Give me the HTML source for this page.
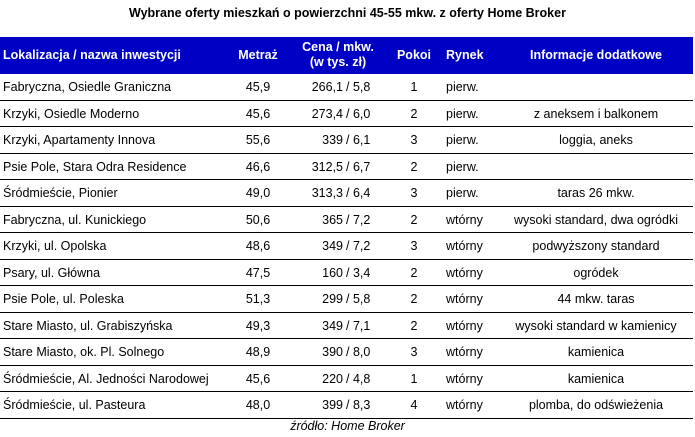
<!DOCTYPE html>
<html><head><meta charset="utf-8"><style>
body{margin:0;width:695px;height:437px;background:#fff;font-family:"Liberation Sans","DejaVu Sans",sans-serif;position:relative;overflow:hidden;color:#000}
.t{position:absolute;top:6px;left:0;width:695px;text-align:center;font-weight:bold;font-size:12.5px}
.h{position:absolute;top:37px;left:0;width:693px;height:37px;background:#0000c4;color:#fff;font-weight:bold;font-size:12.5px}
.h div,.r div{position:absolute;white-space:nowrap}
.r{position:absolute;left:0;width:693px;height:26.5px;border-bottom:1.5px solid #000;box-sizing:border-box;font-size:12.5px}
.r div{top:6px}
.c1{left:3px}.c2{left:221px;width:74px;text-align:center}
.cl{left:262px;width:81px;text-align:right}.cr{left:346px}
.c4{left:383px;width:62px;text-align:center}.c5{left:446px}
.c6{left:500px;width:192px;text-align:center}
.f{position:absolute;top:419px;left:0;width:695px;text-align:center;font-style:italic;font-size:12.5px}
</style></head><body>
<div class="t">Wybrane oferty mieszkań o powierzchni 45-55 mkw. z oferty Home Broker</div>
<div class="h">
<div style="left:3px;top:11px">Lokalizacja / nazwa inwestycji</div>
<div style="left:221px;width:74px;text-align:center;top:11px">Metraż</div>
<div style="left:290px;width:96px;text-align:center;top:3px;line-height:15px">Cena / mkw.<br>(w tys. zł)</div>
<div style="left:383px;width:62px;text-align:center;top:11px">Pokoi</div>
<div style="left:446px;top:11px">Rynek</div>
<div style="left:500px;width:192px;text-align:center;top:11px">Informacje dodatkowe</div>
</div>
<div class="r" style="top:74px"><div class="c1">Fabryczna, Osiedle Graniczna</div><div class="c2">45,9</div><div class="cl">266,1</div><div class="cr">/ 5,8</div><div class="c4">1</div><div class="c5">pierw.</div><div class="c6"></div></div>
<div class="r" style="top:100.5px"><div class="c1">Krzyki, Osiedle Moderno</div><div class="c2">45,6</div><div class="cl">273,4</div><div class="cr">/ 6,0</div><div class="c4">2</div><div class="c5">pierw.</div><div class="c6">z aneksem i balkonem</div></div>
<div class="r" style="top:127px"><div class="c1">Krzyki, Apartamenty Innova</div><div class="c2">55,6</div><div class="cl">339</div><div class="cr">/ 6,1</div><div class="c4">3</div><div class="c5">pierw.</div><div class="c6">loggia, aneks</div></div>
<div class="r" style="top:153.5px"><div class="c1">Psie Pole, Stara Odra Residence</div><div class="c2">46,6</div><div class="cl">312,5</div><div class="cr">/ 6,7</div><div class="c4">2</div><div class="c5">pierw.</div><div class="c6"></div></div>
<div class="r" style="top:180px"><div class="c1">Śródmieście, Pionier</div><div class="c2">49,0</div><div class="cl">313,3</div><div class="cr">/ 6,4</div><div class="c4">3</div><div class="c5">pierw.</div><div class="c6">taras 26 mkw.</div></div>
<div class="r" style="top:206.5px"><div class="c1">Fabryczna, ul. Kunickiego</div><div class="c2">50,6</div><div class="cl">365</div><div class="cr">/ 7,2</div><div class="c4">2</div><div class="c5">wtórny</div><div class="c6">wysoki standard, dwa ogródki</div></div>
<div class="r" style="top:233px"><div class="c1">Krzyki, ul. Opolska</div><div class="c2">48,6</div><div class="cl">349</div><div class="cr">/ 7,2</div><div class="c4">3</div><div class="c5">wtórny</div><div class="c6">podwyższony standard</div></div>
<div class="r" style="top:259.5px"><div class="c1">Psary, ul. Główna</div><div class="c2">47,5</div><div class="cl">160</div><div class="cr">/ 3,4</div><div class="c4">2</div><div class="c5">wtórny</div><div class="c6">ogródek</div></div>
<div class="r" style="top:286px"><div class="c1">Psie Pole, ul. Poleska</div><div class="c2">51,3</div><div class="cl">299</div><div class="cr">/ 5,8</div><div class="c4">2</div><div class="c5">wtórny</div><div class="c6">44 mkw. taras</div></div>
<div class="r" style="top:312.5px"><div class="c1">Stare Miasto, ul. Grabiszyńska</div><div class="c2">49,3</div><div class="cl">349</div><div class="cr">/ 7,1</div><div class="c4">2</div><div class="c5">wtórny</div><div class="c6">wysoki standard w kamienicy</div></div>
<div class="r" style="top:339px"><div class="c1">Stare Miasto, ok. Pl. Solnego</div><div class="c2">48,9</div><div class="cl">390</div><div class="cr">/ 8,0</div><div class="c4">3</div><div class="c5">wtórny</div><div class="c6">kamienica</div></div>
<div class="r" style="top:365.5px"><div class="c1">Śródmieście, Al. Jedności Narodowej</div><div class="c2">45,6</div><div class="cl">220</div><div class="cr">/ 4,8</div><div class="c4">1</div><div class="c5">wtórny</div><div class="c6">kamienica</div></div>
<div class="r" style="top:392px"><div class="c1">Śródmieście, ul. Pasteura</div><div class="c2">48,0</div><div class="cl">399</div><div class="cr">/ 8,3</div><div class="c4">4</div><div class="c5">wtórny</div><div class="c6">plomba, do odświeżenia</div></div>
<div class="f">źródło: Home Broker</div>
</body></html>
